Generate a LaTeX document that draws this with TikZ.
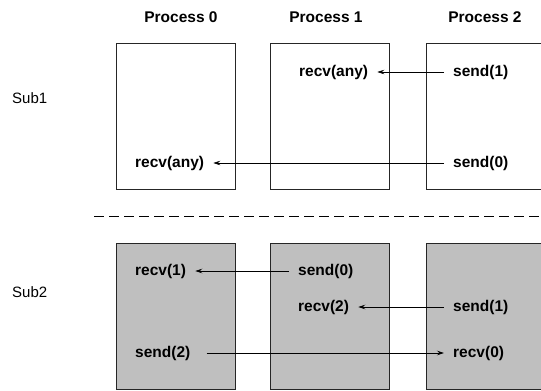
\documentclass[tikz,border=0pt]{standalone}
\usepackage{fontspec}
\setmainfont{Liberation Sans}
\usetikzlibrary{arrows.meta}
\tikzset{
  pbox/.style={draw=black!85, line width=0.9pt, minimum width=119pt, minimum height=146pt, inner sep=0pt},
  upbox/.style={pbox, fill=white},
  lowbox/.style={pbox, fill=black!25},
  lab/.style={font=\bfseries\fontsize{15.5}{18}\selectfont, inner xsep=9pt, inner ysep=1pt},
  lw/.style={lab, anchor=west},
  head/.style={font=\bfseries\fontsize{15.5}{18}\selectfont, inner sep=0pt},
  sub/.style={font=\fontsize{15}{18}\selectfont, inner sep=0pt, anchor=west},
  msg/.style={line width=0.7pt, -{Stealth[length=7pt, width=4.5pt, inset=2.5pt]}},
  sep/.style={line width=0.7pt, dash pattern=on 10pt off 5pt}
}
\begin{document}
\begin{tikzpicture}[x=1pt, y=-1pt]
\useasboundingbox (0,0) rectangle (541,391);
% headings
\node[head] (h0) at (181,17) {Process 0};
\node[head] (h1) at (326,17) {Process 1};
\node[head] (h2) at (485,17) {Process 2};
% side labels
\node[sub] (s1) at (12,98) {Sub1};
\node[sub] (s2) at (12,292) {Sub2};
% boxes
\node[upbox] (u0) at (175.5,116) {};
\node[upbox] (u1) at (330,116) {};
\node[upbox] (u2) at (485.5,116) {};
\node[lowbox] (l0) at (175.5,316) {};
\node[lowbox] (l1) at (330,316) {};
\node[lowbox] (l2) at (485.5,316) {};
% separator
\coordinate (d0) at (94,216);
\coordinate (d1) at (545,216);
\draw[sep] (d0) -- (d1);
% Sub1 texts
\node[lw] (a1) at (290,72) {recv(any)};
\node[lw] (a2) at (444,72) {send(1)};
\node[lw] (a3) at (126,163) {recv(any)};
\node[lw] (a4) at (444,163) {send(0)};
\draw[msg] (a2.west) -- (a1.east);
\draw[msg] (a4.west) -- (a3.east);
% Sub2 texts
\node[lw] (b1) at (126,271) {recv(1)};
\node[lw] (b2) at (289,271) {send(0)};
\node[lw] (b3) at (289,307) {recv(2)};
\node[lw] (b4) at (444,307) {send(1)};
\node[lw] (b5) at (126,353) {send(2)};
\node[lw] (b6) at (444,353) {recv(0)};
\draw[msg] (b2.west) -- (b1.east);
\draw[msg] (b4.west) -- (b3.east);
\draw[msg, shorten <=7pt] (b5.east) -- (b6.west);
\end{tikzpicture}
\end{document}
